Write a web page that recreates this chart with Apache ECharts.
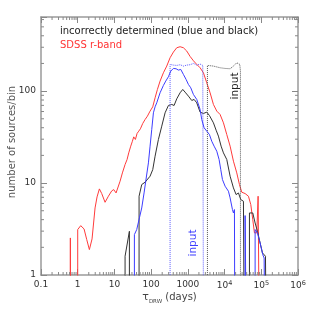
<!DOCTYPE html>
<html><head><meta charset="utf-8">
<script src="https://cdn.jsdelivr.net/npm/echarts@6/dist/echarts.min.js"></script>
<style>html,body{margin:0;padding:0;background:#fff}#c{width:316px;height:316px}</style>
</head><body><div id="c"></div>
<script>
// ---- data (tau in days, number of sources per bin) ----
const redTau = [0.631,0.631,0.631,1,1,1.207,1.488,1.759,2.079,2.458,2.968,3.364,3.894,4.508,5.557,6.848,8.44,9.57,11.08,12.56,14.24,16.49,19.49,22.09,24.53,27.81,30.87,33.57,37.26,41.38,45.93,50.99,59.04,68.34,79.13,93.5,110.6,128,148.2,175.1,215.9,266.1,328.1,404.4,498.3,614.3,757.1,933.3,1150,1418,1748,2154,2656,3273,4035,4973,6131,7556,9314,11481,14153,17443,21500,25420,29430,36270,44700,51770,58660,65140,75410,81980,87300];
const redN   = [0.3,2.53,0.3,0.3,3.12,3.44,3.17,2.43,1.89,2.47,5.36,7.07,8.64,7.69,6.18,7.19,8.22,8.49,7.81,7.95,10.47,12.9,15.9,18.03,21.3,25.2,28.5,31.8,29.8,34.6,36.7,38.9,44.5,49.1,53.4,60.6,67.5,84.6,104.3,128.5,158.3,187.2,230.7,265.9,296.4,304,296.4,272.7,238.5,213.9,195.2,179.5,158.3,123.2,95.9,71.6,60.6,55.7,45.2,33.7,25.2,17.3,12.9,9.63,7.95,7.69,7.19,5.83,4.0,2.87,2.87,7.19,0.3];

const blueTau = [35.0,35.0,40.5,47.9,55.4,64.2,71.3,84.3,93.5,103.8,115.3,128,142.1,175.1,215.9,249.9,295.5,342.1,404.4,478,553.4,640.6,757.1,895.1,1036,1199,1418,1748,2154,2392,2769,3273,3869,4479,5185,6131,7096,7880,8750,10340,12750,14150,16390,17440,18570,18960,36270,36270,38620,67920,67920,78620,92950,109900,119500,124600];
const blueN   = [0.3,2.75,3.12,4.18,5.36,7.81,10.47,16.58,25.2,38.24,58.1,67.5,74.6,95.9,115.3,128.5,143.3,165.1,176.5,175.1,169.3,172.2,151.9,134,118.2,108.7,91.9,81.2,63.2,49.1,39.9,36.7,33.7,28.5,25.2,22.2,18.03,14.0,10.92,9.24,8.15,6.9,5.15,4.73,5.15,0.3,0.3,4.43,0.3,0.3,3.12,2.87,2.23,1.66,1.53,0.3];

const blackTau = [19.49,19.49,25.57,25.57,46.9,46.9,55.4,68.34,93.5,110.6,128,157.8,194.5,239.7,295.5,364.2,421.6,498.3,614.3,726.1,840.6,1036,1277,1478,1748,2154,2656,3273,3869,4973,5880,6806,8045,9314,11481,14153,17443,20620,23870,27630,32670,34060,47610,47610,58660,67920,78620,92950,107600,119500,129900,135400];
const blackN   = [0.3,1.60,2.99,0.3,0.3,7.19,9.63,10.21,11.87,14.0,19.6,29.8,41.6,58.1,69.8,71.6,69.8,82.5,95.9,104.3,97.5,88.2,79.1,81.2,74.6,59.1,57.1,59.1,54.3,45.2,37.6,32.4,25.2,21.3,18.03,11.87,8.86,7.49,7.81,6.61,6.34,0.3,0.3,4.73,4.73,3.68,2.99,2.23,1.74,1.66,1.60,0.3];

const blueInTau = [328.1,328.1,404.4,498.3,614.3,757.1,933.3,1150,1418,1748,2154,2548,2656,2656];
const blueInN   = [0.3,195.2,191.9,190.3,193.6,187.2,191.9,193.6,200.1,191.9,196.8,190.3,190.3,0.3];

const blackInTau = [3414,3414,4973,7556,10340,14153,17443,21500,23870,25950,27060,27060];
const blackInN   = [0.3,190.3,187.2,179.5,176.5,175.1,187.2,203.5,208.6,195.2,165.1,0.3];

// axis tick values
const xMajor = [0.1,1,10,100,1000,1e4,1e5,1e6];
const yMajor = [1,10,100];
const minorMult = [2,3,4,5,6,7,8,9];
const X_MIN = 0.1, X_MAX = 1e6, Y_MIN = 1, Y_MAX = 640;

const FONT = '"DejaVu Sans"';
const pairs = (a, b) => a.map((v, i) => [v, b[i]]);

const xMinor = [];
xMajor.forEach(d => minorMult.forEach(m => { const v = d * m; if (v < X_MAX) xMinor.push(v); }));
const yMinor = [];
yMajor.forEach(d => minorMult.forEach(m => { const v = d * m; if (v < Y_MAX) yMinor.push(v); }));

function fmt(v) {
  const l = Math.log10(v), e = Math.round(l);
  if (Math.abs(l - e) > 1e-6) return '';
  if (e <= 3) return e < 0 ? '0.1' : String(Math.pow(10, e));
  return '10{sup|' + e + '}';
}

const axisCommon = {
  type: 'log', logBase: 10,
  axisLine: { show: true, lineStyle: { color: '#9a9a9a', width: 1.5 } },
  axisTick: { show: true, inside: true, length: 6, lineStyle: { color: '#888', width: 1 } },
  splitLine: { show: false },
  minorTick: { show: false }
};
const labelStyle = {
  fontFamily: FONT, fontSize: 9, color: '#333',
  rich: { sup: { fontFamily: FONT, fontSize: 6.5, color: '#333', verticalAlign: 'bottom', padding: [0, 0, 5, 0] } }
};

const lineSeries = (name, tau, n, color, type, z) => ({
  name, type: 'line', data: pairs(tau, n), showSymbol: false, symbol: 'none',
  clip: true, z: z || 2, silent: true,
  lineStyle: { color, width: 1, type: type || 'solid' }
});

const chart = echarts.init(document.getElementById('c'), null, { renderer: 'canvas' });
chart.setOption({
  animation: false,
  backgroundColor: '#fff',
  grid: { left: 41, top: 17, width: 257, height: 258 },
  xAxis: [
    Object.assign({}, axisCommon, { min: X_MIN, max: X_MAX, splitNumber: 7, position: 'bottom',
      axisLabel: Object.assign({ margin: 5, formatter: fmt }, labelStyle) }),
    Object.assign({}, axisCommon, { min: X_MIN, max: X_MAX, splitNumber: 7, position: 'top',
      axisLabel: { show: false } })
  ],
  yAxis: [
    Object.assign({}, axisCommon, { min: Y_MIN, max: Y_MAX, splitNumber: 3, position: 'left',
      axisLabel: Object.assign({ margin: 5, formatter: fmt }, labelStyle) }),
    Object.assign({}, axisCommon, { min: Y_MIN, max: Y_MAX, splitNumber: 3, position: 'right',
      axisLabel: { show: false } })
  ],
  series: [
    lineSeries('SDSS r-band', redTau, redN, '#ff3b3b', 'solid', 2),
    lineSeries('black', blackTau, blackN, '#333333', 'solid', 3),
    lineSeries('blue', blueTau, blueN, '#3c3cff', 'solid', 4),
    lineSeries('blue input', blueInTau, blueInN, '#5a5aff', 'dotted', 3),
    lineSeries('black input', blackInTau, blackInN, '#555555', 'dotted', 3),
    {
      type: 'custom', coordinateSystem: 'cartesian2d', silent: true, z: 6,
      data: xMinor.map(v => [v, 2]),
      renderItem: (params, api) => {
        const cs = params.coordSys;
        const x = api.coord([api.value(0), 2])[0];
        const b = cs.y + cs.height;
        return { type: 'group', children: [
          { type: 'line', shape: { x1: x, y1: b, x2: x, y2: b - 3 }, style: { stroke: '#888', lineWidth: 1 } },
          { type: 'line', shape: { x1: x, y1: cs.y, x2: x, y2: cs.y + 3 }, style: { stroke: '#888', lineWidth: 1 } }
        ] };
      }
    },
    {
      type: 'custom', coordinateSystem: 'cartesian2d', silent: true, z: 6,
      data: yMinor.map(v => [1, v]),
      renderItem: (params, api) => {
        const cs = params.coordSys;
        const y = api.coord([1, api.value(1)])[1];
        const r = cs.x + cs.width;
        return { type: 'group', children: [
          { type: 'line', shape: { x1: cs.x, y1: y, x2: cs.x + 3, y2: y }, style: { stroke: '#888', lineWidth: 1 } },
          { type: 'line', shape: { x1: r, y1: y, x2: r - 3, y2: y }, style: { stroke: '#888', lineWidth: 1 } }
        ] };
      }
    }
  ],
  graphic: [
    { type: 'text', x: 60, y: 31, style: { text: 'incorrectly determined (blue and black)', font: '10px ' + FONT, fill: '#222', verticalAlign: 'middle' } },
    { type: 'text', x: 60, y: 45, style: { text: 'SDSS r-band', font: '10px ' + FONT, fill: '#ff3333', verticalAlign: 'middle' } },
    { type: 'text', x: 193.5, y: 243, rotation: Math.PI / 2, style: { text: 'input', font: '10.5px ' + FONT, fill: '#3c3cff', align: 'center', verticalAlign: 'middle' } },
    { type: 'text', x: 235, y: 86, rotation: Math.PI / 2, style: { text: 'input', font: '10.5px ' + FONT, fill: '#222', align: 'center', verticalAlign: 'middle' } },
    { type: 'text', x: 12.5, y: 142, rotation: Math.PI / 2, style: { text: 'number of sources/bin', font: '10px ' + FONT, fill: '#555', align: 'center', verticalAlign: 'middle' } },
    { type: 'text', x: 169.5, y: 298, style: {
        text: '{t|τ}{s|DRW}{d| (days)}', align: 'center', verticalAlign: 'middle',
        rich: {
          t: { font: '11px ' + FONT, fill: '#444', verticalAlign: 'top' },
          s: { font: '5.5px ' + FONT, fill: '#444', verticalAlign: 'top', padding: [7, 0, 0, 0] },
          d: { font: '10px ' + FONT, fill: '#444', verticalAlign: 'top', padding: [1, 0, 0, 0] }
        } } }
  ]
});
</script></body></html>
